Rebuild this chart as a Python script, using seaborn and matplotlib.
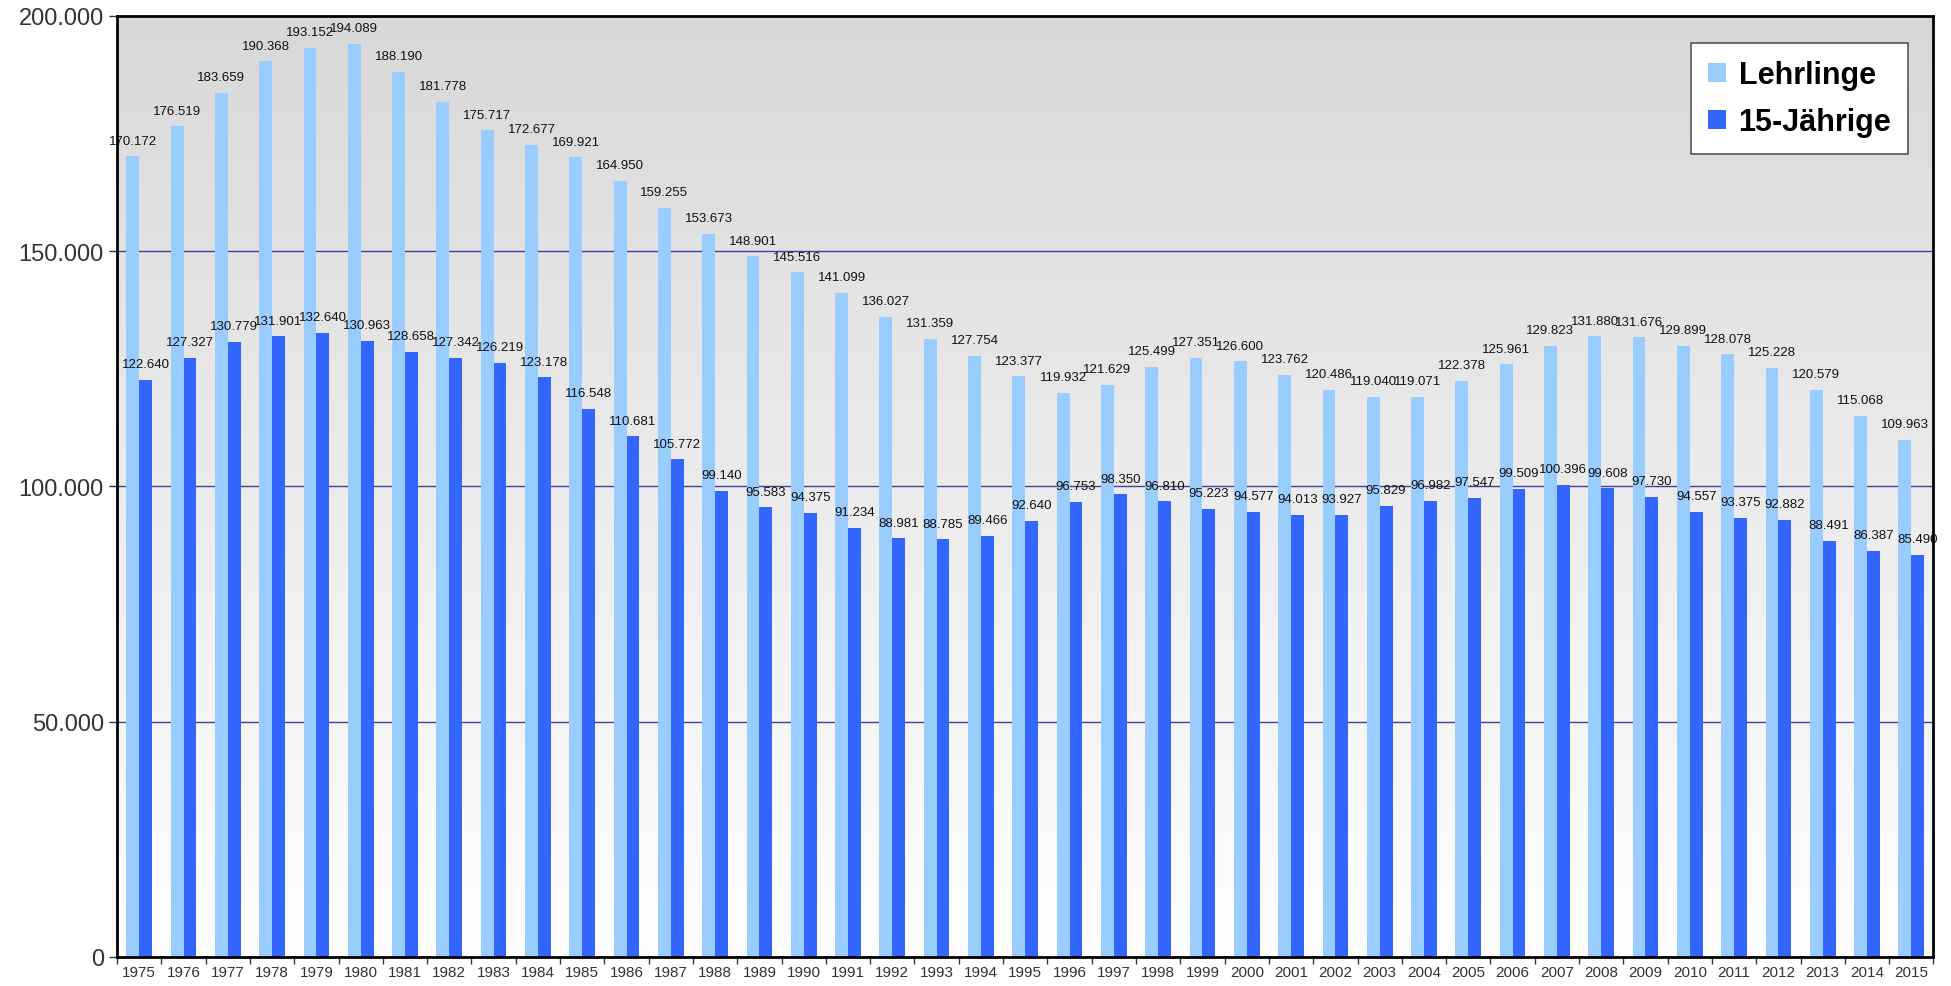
import numpy as np
import pandas as pd
import seaborn as sns
import matplotlib.pyplot as plt
from matplotlib.colors import LinearSegmentedColormap
from matplotlib.ticker import FuncFormatter, FixedLocator

years = list(range(1975, 2016))
lehrlinge = [170172, 176519, 183659, 190368, 193152, 194089, 188190, 181778, 175717, 172677,
             169921, 164950, 159255, 153673, 148901, 145516, 141099, 136027, 131359, 127754,
             123377, 119932, 121629, 125499, 127351, 126600, 123762, 120486, 119040, 119071,
             122378, 125961, 129823, 131880, 131676, 129899, 128078, 125228, 120579, 115068,
             109963]
jaehrige15 = [122640, 127327, 130779, 131901, 132640, 130963, 128658, 127342, 126219, 123178,
              116548, 110681, 105772, 99140, 95583, 94375, 91234, 88981, 88785, 89466,
              92640, 96753, 98350, 96810, 95223, 94577, 94013, 93927, 95829, 96982,
              97547, 99509, 100396, 99608, 97730, 94557, 93375, 92882, 88491, 86387,
              85490]
series_names = ['Lehrlinge', '15-Jährige']
colors = ['#99CCFF', '#3366FF']

df = pd.DataFrame({
    'Jahr': [str(y) for y in years] * 2,
    'Serie': [series_names[0]] * len(years) + [series_names[1]] * len(years),
    'Anzahl': lehrlinge + jaehrige15,
})

sns.set_style('white')
plt.rcParams['font.family'] = ['Liberation Sans', 'DejaVu Sans']

fig = plt.figure(figsize=(19.51, 9.87), dpi=100)
ax = fig.add_axes([0.06, 0.0294, 0.931, 0.9534])

# grauer Verlauf im Hintergrund
grad = np.linspace(0, 1, 256).reshape(-1, 1)
bg = LinearSegmentedColormap.from_list('bg', ['#ffffff', '#d8d8d8'])
ax.imshow(grad, extent=[0, 1, 0, 1], transform=ax.transAxes, aspect='auto',
          cmap=bg, origin='lower', zorder=0)

sns.barplot(data=df, x='Jahr', y='Anzahl', hue='Serie', palette=colors, width=0.58,
            saturation=1, linewidth=0, ax=ax, zorder=3)

fmt = lambda v: f'{int(round(v)):,}'.replace(',', '.')
for cont in ax.containers:
    ax.bar_label(cont, labels=[fmt(b.get_height()) for b in cont], padding=7,
                 fontsize=9.5, color='#111111', zorder=5)

ax.set_ylim(0, 200000)
ax.set_xlim(-0.5, len(years) - 0.5)
ax.set_yticks([0, 50000, 100000, 150000, 200000])
ax.yaxis.set_major_formatter(FuncFormatter(lambda v, p: fmt(v)))
ax.tick_params(axis='y', labelsize=17, colors='#333333', length=6, width=1, direction='out', left=True)
ax.tick_params(axis='x', labelsize=11, colors='#333333', length=0, pad=6)
ax.xaxis.set_minor_locator(FixedLocator(np.arange(-0.5, len(years), 1)))
ax.tick_params(axis='x', which='minor', length=5, width=1, color='#333333', bottom=True)

ax.yaxis.grid(True, color='#3F3FA0', linewidth=1)
ax.set_axisbelow(True)
for g in ax.get_ygridlines():
    g.set_zorder(1)
ax.set_xlabel('')
ax.set_ylabel('')
for s in ax.spines.values():
    s.set_visible(True)
    s.set_color('black')
    s.set_linewidth(2)
    s.set_zorder(6)

leg = ax.legend(loc='upper right', bbox_to_anchor=(0.9945, 0.987), frameon=True, fancybox=False,
                prop={'weight': 'bold', 'size': 22}, handlelength=0.6, handleheight=0.6,
                handletextpad=0.4, labelspacing=0.55, borderpad=0.55, title=None)
leg.get_frame().set_edgecolor('#555555')
leg.get_frame().set_linewidth(1.2)
leg.get_frame().set_alpha(1)
for t in leg.get_texts():
    t.set_color('black')

fig.savefig('out.png', dpi=100)
